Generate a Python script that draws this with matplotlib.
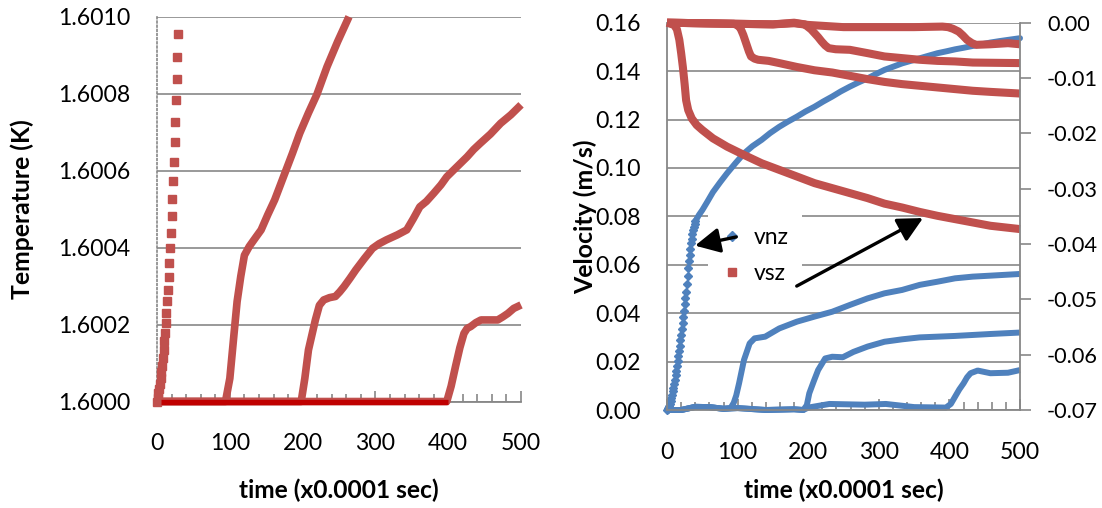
import matplotlib
matplotlib.use("Agg")
import matplotlib.pyplot as plt
from matplotlib.lines import Line2D
from matplotlib.ticker import FormatStrFormatter, MultipleLocator

plt.rcParams['font.family'] = ['Lato', 'DejaVu Sans']

RED = '#C0504D'
DARKRED = '#C00000'
BLUE = '#4F81BD'
GRID = '#878787'

# ---------------- Left panel: temperature (K) ----------------
x_ticks = [0, 100, 200, 300, 400, 500]
T_ticks = [1.6000, 1.6002, 1.6004, 1.6006, 1.6008, 1.6010]

# series starting at t=0 (individual markers)
t_T1 = [0, 1, 2, 3, 4, 5, 6, 7, 8, 9, 10, 11, 12, 13, 14, 15, 16, 17, 18, 19,
        20, 21, 22, 23, 24, 25, 26, 27, 28, 29]
T1 = [1.600000, 1.600010, 1.600021, 1.600033, 1.600046, 1.600060, 1.600076, 1.600093,
      1.600112, 1.600133, 1.600156, 1.600179, 1.600203, 1.600229, 1.600260, 1.600291,
      1.600324, 1.600359, 1.600398, 1.600439, 1.600481, 1.600526, 1.600574, 1.600623,
      1.600674, 1.600727, 1.600783, 1.600838, 1.600896, 1.600954]

t_T2 = [0, 94, 100, 105.8, 110, 115, 120, 126.7, 135, 143, 152, 161.6, 175.5, 186,
        196, 208, 219.6, 233.5, 248, 263.7]
T2 = [1.600000, 1.600000, 1.600060, 1.600177, 1.600260, 1.600325, 1.600380, 1.600403,
      1.600425, 1.600446, 1.600485, 1.600524, 1.600593, 1.600645, 1.600697, 1.600750,
      1.600798, 1.600870, 1.600935, 1.601000]

t_T3 = [0, 198, 203, 208, 217.5, 223, 229, 237, 245, 251, 257, 265, 273, 285, 296,
        305, 315, 330, 343, 352, 361, 370, 380, 390, 398, 412, 426, 435, 444, 458,
        472, 486, 500]
T3 = [1.600000, 1.600000, 1.600060, 1.600134, 1.600212, 1.600250, 1.600264, 1.600270,
      1.600273, 1.600285, 1.600299, 1.600320, 1.600342, 1.600372, 1.600398, 1.600410,
      1.600420, 1.600433, 1.600446, 1.600475, 1.600506, 1.600520, 1.600541, 1.600563,
      1.600584, 1.600610, 1.600636, 1.600655, 1.600671, 1.600695, 1.600723, 1.600745,
      1.600771]

t_T4 = [0, 398, 404, 410, 416, 421.6, 426, 431, 438, 445, 458, 468, 475, 482, 490, 500]
T4 = [1.600000, 1.600000, 1.600040, 1.600091, 1.600140, 1.600177, 1.600190, 1.600195,
      1.600205, 1.600212, 1.600212, 1.600212, 1.600220, 1.600229, 1.600242, 1.600251]

t_T5 = [5, 400]
T5 = [1.6000, 1.6000]

# ---------------- Right panel: velocity (m/s) ----------------
v_ticks = [0.00, 0.02, 0.04, 0.06, 0.08, 0.10, 0.12, 0.14, 0.16]
vs_ticks = [0.00, -0.01, -0.02, -0.03, -0.04, -0.05, -0.06, -0.07]

# vnz, run starting at t=0: early individual points
t_vn1a = list(range(0, 41))
vn1a = [0.0000, 0.0003, 0.0008, 0.0015, 0.0025, 0.0036, 0.0049, 0.0062, 0.0077, 0.0092,
        0.0108, 0.0125, 0.0143, 0.0162, 0.0181, 0.0201, 0.0222, 0.0243, 0.0265, 0.0288,
        0.0311, 0.0335, 0.0360, 0.0385, 0.0410, 0.0436, 0.0462, 0.0489, 0.0520, 0.0552,
        0.0585, 0.0615, 0.0642, 0.0667, 0.0689, 0.0708, 0.0726, 0.0742, 0.0756, 0.0768,
        0.0779]
# later part of the same run
t_vn1b = [40, 45, 50, 57, 65, 75, 85, 97, 109, 121, 134, 146, 159, 171, 184, 196, 209,
          221, 234, 246, 259, 271, 284, 296, 308, 321, 333, 346, 358, 371, 383, 396,
          408, 421, 433, 446, 458, 471, 483, 500]
vn1b = [0.0779, 0.0805, 0.0826, 0.0860, 0.0900, 0.0940, 0.0978, 0.1020, 0.1060, 0.1090,
        0.1116, 0.1144, 0.1170, 0.1191, 0.1212, 0.1233, 0.1253, 0.1274, 0.1295, 0.1316,
        0.1336, 0.1353, 0.1370, 0.1388, 0.1405, 0.1419, 0.1432, 0.1443, 0.1453, 0.1464,
        0.1474, 0.1482, 0.1490, 0.1497, 0.1504, 0.1511, 0.1518, 0.1524, 0.1529, 0.1536]

t_vn2 = [0, 20, 40, 60, 80, 90, 94.5, 98, 102, 109, 117, 124, 139, 159, 184, 209, 234,
         259, 284, 308, 333, 358, 383, 408, 433, 458, 500]
vn2 = [0.0000, 0.0000, 0.0013, 0.0012, 0.0005, 0.0008, 0.0030, 0.0060, 0.0110, 0.0207,
       0.0275, 0.0296, 0.0303, 0.0337, 0.0365, 0.0386, 0.0406, 0.0434, 0.0461, 0.0482,
       0.0496, 0.0517, 0.0530, 0.0544, 0.0551, 0.0555, 0.0562]

t_vn3 = [0, 20, 40, 60, 80, 100, 140, 180, 193, 198, 201.5, 208, 214, 224, 234, 249,
         264, 284, 308, 333, 358, 383, 408, 433, 458, 500]
vn3 = [0.0000, 0.0000, 0.0013, 0.0012, 0.0005, 0.0008, 0.0000, 0.0003, 0.0000, 0.0020,
       0.0069, 0.0120, 0.0165, 0.0213, 0.0220, 0.0218, 0.0240, 0.0262, 0.0282, 0.0292,
       0.0300, 0.0303, 0.0306, 0.0310, 0.0314, 0.0320]

t_vn4 = [0, 20, 40, 60, 80, 100, 140, 180, 193, 200, 230, 280, 310, 350, 395, 402, 408,
         414, 420, 425, 430, 440, 458, 483, 500]
vn4 = [0.0000, 0.0000, 0.0013, 0.0012, 0.0005, 0.0008, 0.0000, 0.0003, 0.0000, 0.0010,
       0.0025, 0.0022, 0.0025, 0.0012, 0.0010, 0.0025, 0.0055, 0.0085, 0.0110, 0.0135,
       0.0152, 0.0163, 0.0152, 0.0154, 0.0165]

t_vs1 = [0, 10, 14, 17.4, 20, 22.4, 25, 27, 30, 35, 42, 50, 65, 85, 109, 134, 159, 184,
         209, 234, 259, 284, 308, 333, 358, 383, 408, 433, 458, 500]
vs1 = [0.0000, -0.0004, -0.0012, -0.0031, -0.0055, -0.0080, -0.0112, -0.0140, -0.0158,
       -0.0173, -0.0185, -0.0194, -0.0209, -0.0224, -0.0239, -0.0254, -0.0266, -0.0278,
       -0.0290, -0.0299, -0.0308, -0.0317, -0.0327, -0.0334, -0.0342, -0.0349, -0.0355,
       -0.0361, -0.0367, -0.0373]

t_vs2 = [0, 50, 95, 100, 104, 108, 112, 116, 119, 124, 129, 144, 159, 184, 209, 234,
         259, 284, 308, 333, 358, 383, 408, 433, 458, 500]
vs2 = [0.0000, -0.0001, -0.0002, -0.0005, -0.0010, -0.0022, -0.0037, -0.0052, -0.0061,
       -0.0065, -0.0067, -0.0069, -0.0073, -0.0080, -0.0086, -0.0090, -0.0096, -0.0102,
       -0.0107, -0.0111, -0.0114, -0.0117, -0.0120, -0.0123, -0.0125, -0.0128]

t_vs3 = [0, 100, 150, 180, 195, 199, 204, 209, 214, 219, 224, 229, 239, 259, 284, 308,
         333, 358, 383, 408, 433, 500]
vs3 = [0.0000, -0.0002, -0.0003, 0.0000, -0.0003, -0.0007, -0.0012, -0.0019, -0.0026,
       -0.0034, -0.0041, -0.0046, -0.0048, -0.0049, -0.0055, -0.0061, -0.0064, -0.0067,
       -0.0069, -0.0070, -0.0072, -0.0073]

t_vs4 = [0, 100, 150, 180, 200, 250, 300, 350, 390, 398, 405, 413, 419, 425, 432, 438,
         458, 483, 500]
vs4 = [0.0000, -0.0002, -0.0003, -0.0001, -0.0004, -0.0008, -0.0008, -0.0008, -0.0007,
       -0.0008, -0.0011, -0.0016, -0.0023, -0.0031, -0.0037, -0.0040, -0.0039, -0.0037,
       -0.0039]

legend_labels = ['vnz', 'vsz']
xlabel_text = 'time (x0.0001 sec)'
ylabel_T = 'Temperature (K)'
ylabel_v = 'Velocity (m/s)'

# ---------------- Figure ----------------
fig = plt.figure(figsize=(11.02, 5.08), dpi=100)
renderer = fig.canvas.get_renderer()


def fit_size(s, target_px, weight='normal', base=20.0):
    t = fig.text(0, 0, s, fontsize=base, fontweight=weight)
    w = t.get_window_extent(renderer).width
    t.remove()
    return base * target_px / w


TICK_FS = fit_size('1.6010', 72)
RTICK_FS = fit_size('-0.07', 51)
XLAB_FS = fit_size(xlabel_text, 200, 'bold')
TLAB_FS = fit_size(ylabel_T, 180, 'bold')
VLAB_FS = fit_size(ylabel_v, 155, 'bold')
LEG_FS = fit_size('vnz', 35)


def style_xaxis(ax, pad):
    ax.set_xlim(0, 500)
    ax.set_xticks(x_ticks)
    ax.xaxis.set_minor_locator(MultipleLocator(20))
    ax.tick_params(axis='x', which='major', direction='in', length=8, width=1.2,
                   color=GRID, labelsize=TICK_FS, pad=pad)
    ax.tick_params(axis='x', which='minor', direction='in', length=6, width=1.2, color=GRID)
    ax.spines['bottom'].set_color(GRID)
    ax.spines['bottom'].set_linewidth(1.3)
    ax.spines['top'].set_visible(False)
    ax.spines['right'].set_visible(False)
    ax.yaxis.grid(True, color=GRID, lw=1.2)
    ax.set_axisbelow(True)

# Left panel
ax1 = fig.add_axes([0.1425, 0.2096, 0.3303, 0.7575])
style_xaxis(ax1, pad=23)
ax1.set_ylim(1.6000, 1.6010)
ax1.set_yticks(T_ticks)
ax1.yaxis.set_major_formatter(FormatStrFormatter('%.4f'))
ax1.tick_params(axis='y', length=0, labelsize=TICK_FS, pad=19)
ax1.spines['left'].set_color(GRID)
ax1.spines['left'].set_linestyle((0, (1, 1.5)))
ax1.spines['left'].set_linewidth(1.2)

ax1.plot(t_T2, T2, color=RED, lw=5.5, solid_capstyle='butt', clip_on=False, zorder=3)
ax1.plot(t_T3, T3, color=RED, lw=5.5, solid_capstyle='butt', clip_on=False, zorder=3)
ax1.plot(t_T4, T4, color=RED, lw=5.5, solid_capstyle='butt', clip_on=False, zorder=3)
ax1.plot(t_T1, T1, ls='none', marker='s', ms=5.2, color=RED, mec=RED, clip_on=False, zorder=3)
ax1.plot(t_T5, T5, color=DARKRED, lw=3.8, solid_capstyle='butt', clip_on=False, zorder=4)

ax1.set_ylabel(ylabel_T, fontsize=TLAB_FS, fontweight='bold', va='center')
ax1.yaxis.set_label_coords(-0.371, 0.5)
ax1.set_xlabel(xlabel_text, fontsize=XLAB_FS, fontweight='bold', va='center')
ax1.xaxis.set_label_coords(0.5, -0.23)

# Right panel
ax2 = fig.add_axes([0.6053, 0.1929, 0.3203, 0.7624])
style_xaxis(ax2, pad=23)
ax2.set_ylim(0, 0.16)
ax2.set_yticks(v_ticks)
ax2.yaxis.set_major_formatter(FormatStrFormatter('%.2f'))
ax2.tick_params(axis='y', length=0, labelsize=TICK_FS, pad=19)
ax2.spines['left'].set_color(GRID)
ax2.spines['left'].set_linewidth(1.3)

ax2.plot(t_vn1b, vn1b, color=BLUE, lw=4.3, solid_capstyle='round', clip_on=False)
ax2.plot(t_vn1a, vn1a, ls='none', marker='D', ms=3.6, color=BLUE, mec=BLUE, clip_on=False)
ax2.plot(t_vn2, vn2, color=BLUE, lw=4.3, solid_capstyle='butt', clip_on=False)
ax2.plot(t_vn3, vn3, color=BLUE, lw=4.3, solid_capstyle='butt', clip_on=False)
ax2.plot(t_vn4, vn4, color=BLUE, lw=4.3, solid_capstyle='butt', clip_on=False)

ax2.set_ylabel(ylabel_v, fontsize=VLAB_FS, fontweight='bold', va='center')
ax2.yaxis.set_label_coords(-0.232, 0.5)
ax2.set_xlabel(xlabel_text, fontsize=XLAB_FS, fontweight='bold', va='center')
ax2.xaxis.set_label_coords(0.5, -0.207)

ax3 = ax2.twinx()
ax3.set_ylim(-0.07, 0.0)
ax3.set_yticks(vs_ticks)
ax3.yaxis.set_major_formatter(FormatStrFormatter('%.2f'))
ax3.tick_params(axis='y', direction='out', length=8, width=1.2, color=GRID,
                labelsize=RTICK_FS, pad=11.5)
for s in ['top', 'left', 'bottom']:
    ax3.spines[s].set_visible(False)
ax3.spines['right'].set_color(GRID)
ax3.spines['right'].set_linewidth(1.3)

for tt, vv in [(t_vs1, vs1), (t_vs2, vs2), (t_vs3, vs3), (t_vs4, vs4)]:
    ax3.plot(tt, vv, color=RED, lw=5.8, solid_capstyle='butt', clip_on=False)

handles = [Line2D([], [], ls='none', marker='D', ms=5, color=BLUE),
           Line2D([], [], ls='none', marker='s', ms=5.5, color=RED)]
leg = ax3.legend(handles, legend_labels, loc='center left', bbox_to_anchor=(0.116, 0.399),
                 fontsize=LEG_FS, frameon=True, framealpha=1, edgecolor='none',
                 facecolor='white', fancybox=False, handlelength=0.9, handletextpad=0.5,
                 labelspacing=0.65, borderpad=0.6, borderaxespad=0)
leg.set_zorder(4)

arrow_kw = dict(arrowstyle='-|>,head_length=0.75,head_width=0.38', color='black', lw=2.4,
                shrinkA=0, shrinkB=0, mutation_scale=20)
a1 = ax3.annotate('', xy=(39.7, 0.0679), xytext=(98.0, 0.0715),
                  xycoords=ax2.transData, textcoords=ax2.transData, arrowprops=arrow_kw)
a2 = ax3.annotate('', xy=(362.6, 0.0793), xytext=(183.7, 0.0512),
                  xycoords=ax2.transData, textcoords=ax2.transData, arrowprops=arrow_kw)
a1.set_zorder(6)
a2.set_zorder(6)

fig.savefig('out.png', dpi=100)
